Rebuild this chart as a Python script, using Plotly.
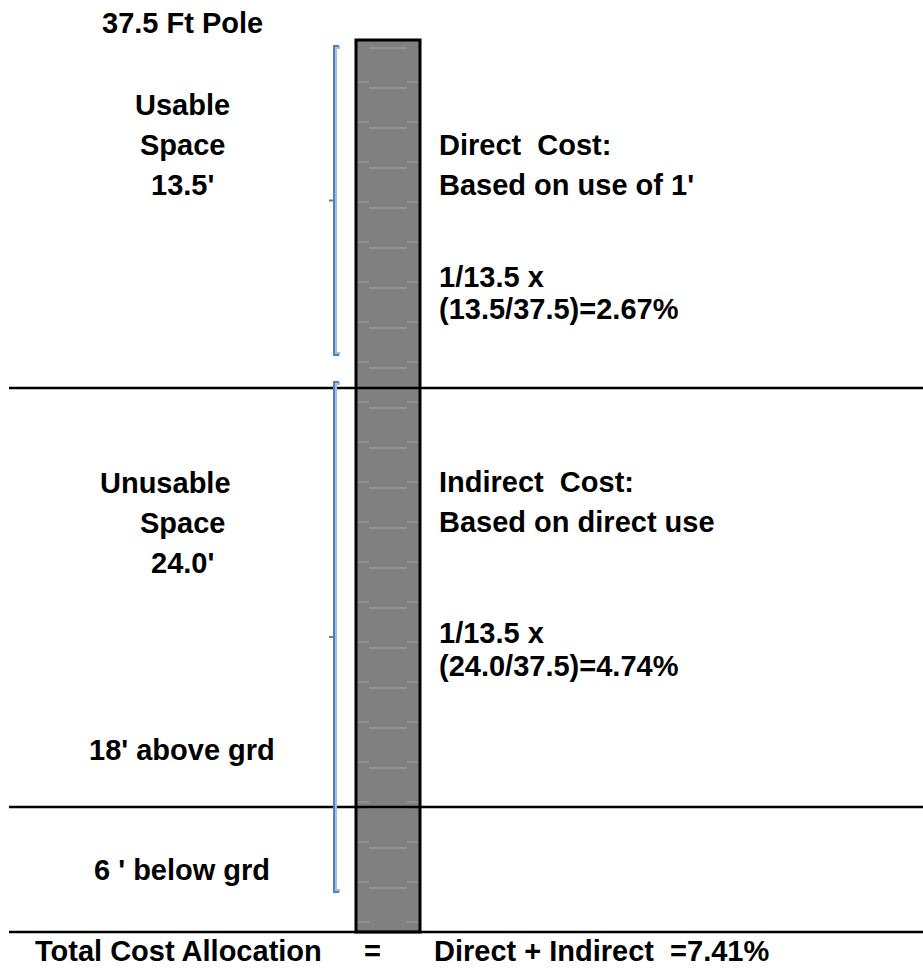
"""
pole_cost.py – pole space cost allocation diagram (Plotly).
"""

import plotly.graph_objects as go

# --- values shown on the diagram -------------------------------------------
POLE_FT = 37.5
USABLE_FT = 13.5
UNUSABLE_FT = 24.0
ABOVE_GRD_FT = 18
BELOW_GRD_FT = 6
ATTACH_FT = 1

direct_pct = ATTACH_FT / USABLE_FT * (USABLE_FT / POLE_FT) * 100
indirect_pct = ATTACH_FT / USABLE_FT * (UNUSABLE_FT / POLE_FT) * 100
total_pct = direct_pct + indirect_pct

# --- canvas geometry (pixel-like data units, y grows downward) -------------
W, H = 923, 970
POLE_X = (356, 420)
POLE_Y = (40, 932)
SPLITS = [388, 807, 932]          # horizontal divider lines
BRACKETS = [(46, 355), (382, 892)]  # usable / unusable brackets
BRACKET_X = 334

FONT = dict(family="Liberation Sans, Arial, sans-serif", size=29,
            color="black", weight="bold")

fig = go.Figure()

# invisible trace so the axes exist
fig.add_trace(go.Scatter(x=[0, W], y=[0, H], mode="markers",
                         marker=dict(opacity=0), hoverinfo="skip",
                         showlegend=False))

shapes = []

# pole body
shapes.append(dict(type="rect", xref="x", yref="y",
                   x0=POLE_X[0], x1=POLE_X[1], y0=POLE_Y[0], y1=POLE_Y[1],
                   fillcolor="#808080", line=dict(color="black", width=3)))

# faint grain lines inside the pole
grain = dict(color="#a0a0a0", width=1)
for y in range(48, POLE_Y[1] - 5, 40):
    shapes.append(dict(type="line", xref="x", yref="y", x0=369, x1=407,
                       y0=y, y1=y, line=grain))
for y in range(82, POLE_Y[1] - 5, 40):
    shapes.append(dict(type="line", xref="x", yref="y", x0=358, x1=369,
                       y0=y, y1=y, line=grain))
    shapes.append(dict(type="line", xref="x", yref="y", x0=407, x1=418,
                       y0=y, y1=y, line=grain))

# divider lines
for y in SPLITS:
    shapes.append(dict(type="line", xref="x", yref="y", x0=9, x1=W,
                       y0=y, y1=y, line=dict(color="black", width=2.5)))

# blue brackets (dark stroke with a lighter band on its right)
for top, bot in BRACKETS:
    mid = (top + bot) / 2
    bx = BRACKET_X
    light = (f"M {bx + 6},{top + 1.5} L {bx + 1.5},{top + 1.5} "
             f"L {bx + 1.5},{bot - 1.5} L {bx + 6},{bot - 1.5}")
    dark = (f"M {bx + 5},{top} L {bx},{top} L {bx},{bot} L {bx + 5},{bot}")
    shapes.append(dict(type="path", xref="x", yref="y", path=light,
                       line=dict(color="#a3bde3", width=3)))
    shapes.append(dict(type="path", xref="x", yref="y", path=dark,
                       line=dict(color="#4f81bd", width=2)))
    shapes.append(dict(type="line", xref="x", yref="y", x0=bx - 5, x1=bx,
                       y0=mid, y1=mid, line=dict(color="#4f81bd", width=2)))

# --- text -------------------------------------------------------------------
# (text, x, vertical centre, anchor)
labels = [
    (f"{POLE_FT} Ft Pole", 182, 23, "center"),
    ("Usable", 182, 105, "center"),
    ("Space", 182, 145, "center"),
    (f"{USABLE_FT}'", 182, 185, "center"),
    ("Direct\u00a0 Cost:", 437, 145, "left"),
    (f"Based on use of {ATTACH_FT}'", 437, 185, "left"),
    (f"{ATTACH_FT}/{USABLE_FT} x", 437, 277, "left"),
    (f"({USABLE_FT}/{POLE_FT})={direct_pct:.2f}%", 437, 309, "left"),
    ("Unusable", 98, 483, "left"),
    ("Space", 182, 523, "center"),
    (f"{UNUSABLE_FT}'", 182, 563, "center"),
    ("Indirect\u00a0 Cost:", 437, 482, "left"),
    ("Based on direct use", 437, 522, "left"),
    (f"{ATTACH_FT}/{USABLE_FT} x", 437, 633, "left"),
    (f"({UNUSABLE_FT}/{POLE_FT})={indirect_pct:.2f}%", 437, 666, "left"),
    (f"{ABOVE_GRD_FT}' above grd", 182, 750, "center"),
    (f"{BELOW_GRD_FT} ' below grd", 182, 870, "center"),
    ("Total Cost Allocation", 33, 951, "left"),
    ("=", 372, 951, "center"),
    (f"Direct + Indirect\u00a0 ={total_pct:.2f}%", 432, 951, "left"),
]

annotations = [
    dict(text=t, x=x, y=y, xref="x", yref="y", xanchor=a, yanchor="middle",
         showarrow=False, font=FONT, align=a)
    for t, x, y, a in labels
]

fig.update_layout(
    width=W,
    height=H,
    margin=dict(l=0, r=0, t=0, b=0),
    paper_bgcolor="white",
    plot_bgcolor="white",
    shapes=shapes,
    annotations=annotations,
    xaxis=dict(range=[0, W], visible=False, fixedrange=True),
    yaxis=dict(range=[H, 0], visible=False, fixedrange=True),
    showlegend=False,
)

# drop the default 8px page margin so the figure sits at the window origin
fig.write_html("out.html", config={"displayModeBar": False},
               post_script="document.body.style.margin='0';"
                           "document.body.style.overflow='hidden';")
